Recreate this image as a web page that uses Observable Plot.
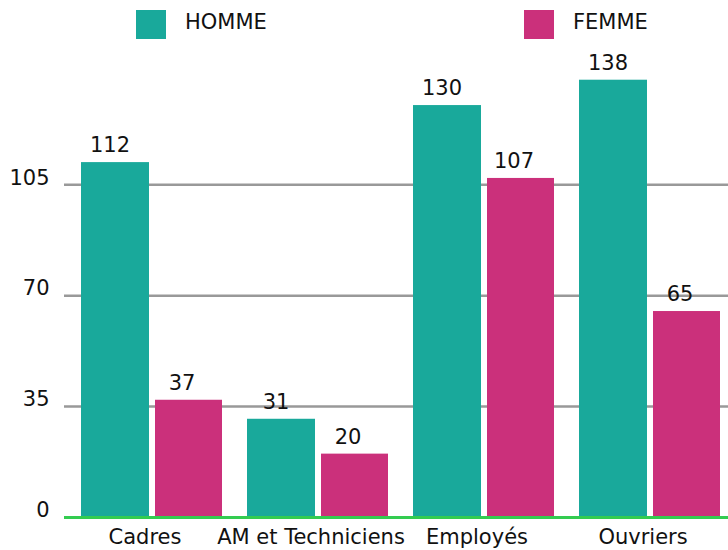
<!DOCTYPE html>
<html>
<head>
<meta charset="utf-8">
<script src="https://cdn.jsdelivr.net/npm/d3@7"></script>
<script src="https://cdn.jsdelivr.net/npm/@observablehq/plot@0.6"></script>
<style>
  html, body { margin: 0; padding: 0; background: #fff; }
  body { font-family: "DejaVu Sans", Verdana, sans-serif; }
  #wrap { position: relative; width: 728px; height: 550px; }
  #legend { position: absolute; left: 0; top: 0; width: 728px; height: 48px; font-size: 21px; color: #111; }
  .item { position: absolute; top: 10px; display: flex; align-items: center; }
  .sw { width: 30px; height: 29px; margin-right: 19px; }
  .lbl { position: relative; top: -3px; }
</style>
</head>
<body>
<div id="wrap"><div id="legend"></div></div>
<script>
const categories = ["Cadres", "AM et Techniciens", "Employés", "Ouvriers"];
const series = ["HOMME", "FEMME"];
const homme = [112, 31, 130, 138];
const femme = [37, 20, 107, 65];
const yTicks = [0, 35, 70, 105];
const colors = ["#19a99b", "#cb307b"];

const dataH = categories.map((c, i) => ({category: c, value: homme[i]}));
const dataF = categories.map((c, i) => ({category: c, value: femme[i]}));

const font = "DejaVu Sans, Verdana, sans-serif";

const chart = Plot.plot({
  width: 728,
  height: 550,
  marginLeft: 64,
  marginRight: 0,
  marginTop: 10,
  marginBottom: 33,
  style: {fontFamily: font, fontSize: "21px", background: "transparent"},
  x: {type: "band", domain: categories, paddingInner: 0.148, paddingOuter: 0.066, align: 0.68, axis: null},
  y: {domain: [0, 160], axis: null},
  marks: [
    Plot.ruleY(yTicks.filter(d => d > 0), {stroke: "#999", strokeWidth: 2.5}),
    Plot.barY(dataH, {x: "category", y: "value", fill: colors[0], insetRight: 73}),
    Plot.barY(dataF, {x: "category", y: "value", fill: colors[1], insetLeft: 74}),
    Plot.ruleY([0], {stroke: "#33cc50", strokeWidth: 3}),
    Plot.text(dataH, {x: "category", y: "value", text: d => String(d.value), dx: -42, dy: -17, fontSize: 21, fill: "#111"}),
    Plot.text(dataF, {x: "category", y: "value", text: d => String(d.value), dx: 30, dy: -17, fontSize: 21, fill: "#111"}),
    Plot.text(yTicks, {y: d => d, text: d => String(d), frameAnchor: "left", textAnchor: "end", dx: -15, dy: -7, fontSize: 21, fill: "#111"}),
    Plot.text(categories, {x: d => d, y: 0, text: d => d, dx: -7, dy: 20, fontSize: 21, fill: "#111"})
  ]
});

const wrap = document.getElementById("wrap");
chart.style.position = "absolute";
chart.style.left = "0";
chart.style.top = "0";
wrap.insertBefore(chart, wrap.firstChild);

const legend = document.getElementById("legend");
const lx = [136, 524];
series.forEach((s, i) => {
  const it = document.createElement("div");
  it.className = "item";
  it.style.left = lx[i] + "px";
  const sw = document.createElement("div");
  sw.className = "sw";
  sw.style.background = colors[i];
  const lb = document.createElement("span");
  lb.className = "lbl";
  lb.textContent = s;
  it.appendChild(sw);
  it.appendChild(lb);
  legend.appendChild(it);
});
</script>
</body>
</html>
